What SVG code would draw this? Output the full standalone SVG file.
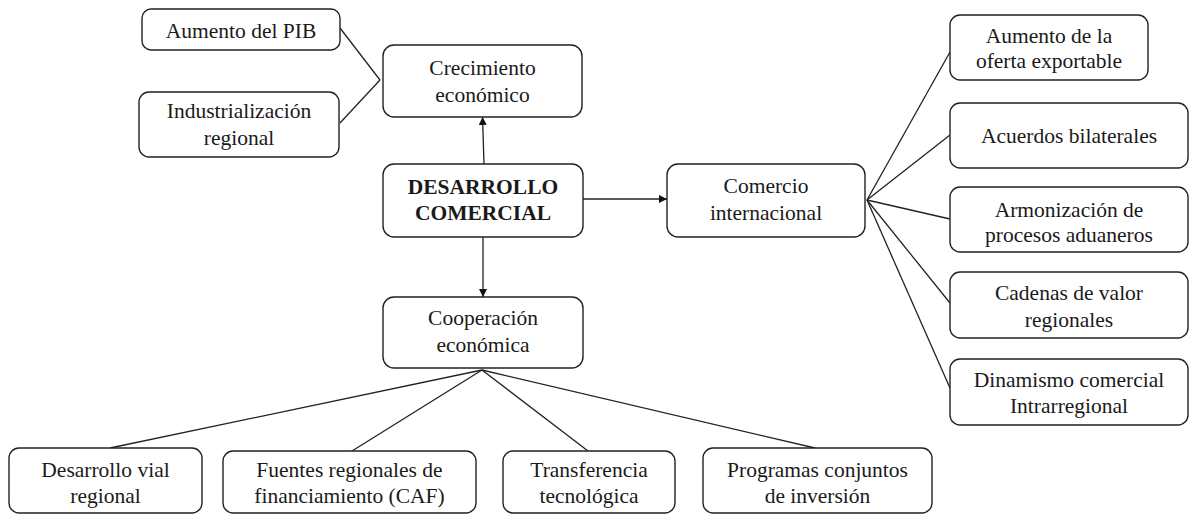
<svg xmlns="http://www.w3.org/2000/svg" width="1190" height="515" viewBox="0 0 1190 515">
<style>
.box{fill:#fff;stroke:#222;stroke-width:1.4}
.t{font-family:"Liberation Serif";font-size:21.5px;fill:#1a1a1a;text-anchor:middle}
.b{font-weight:bold}
.c{fill:none;stroke:#222;stroke-width:1.3}
</style>
<defs>
<marker id="ah" viewBox="0 0 10 10" refX="10" refY="5" markerWidth="8" markerHeight="8" markerUnits="userSpaceOnUse" orient="auto">
<path d="M0,0 L10,5 L0,10 z" fill="#111"/>
</marker>
</defs>
<rect width="1190" height="515" fill="#fff"/>
<g id="connectors">
<line class="c" x1="340" y1="28" x2="380" y2="80"/>
<line class="c" x1="340" y1="123" x2="380" y2="80"/>
<line class="c" x1="484" y1="164" x2="482.5" y2="117" marker-end="url(#ah)"/>
<line class="c" x1="583" y1="199" x2="667" y2="199" marker-end="url(#ah)"/>
<line class="c" x1="483" y1="237" x2="483" y2="297" marker-end="url(#ah)"/>
<line class="c" x1="867" y1="200" x2="950" y2="52"/>
<line class="c" x1="867" y1="200" x2="950" y2="135"/>
<line class="c" x1="867" y1="200" x2="950" y2="219"/>
<line class="c" x1="867" y1="200" x2="950" y2="303"/>
<line class="c" x1="867" y1="200" x2="950" y2="388"/>
<line class="c" x1="482" y1="370" x2="110" y2="448"/>
<line class="c" x1="482" y1="370" x2="352" y2="451"/>
<line class="c" x1="482" y1="370" x2="588" y2="451"/>
<line class="c" x1="482" y1="370" x2="815" y2="448"/>
</g>
<g id="aumento-pib"><rect class="box" x="142" y="9" width="198" height="41" rx="9"/><text class="t" x="241" y="38">Aumento del PIB</text></g>
<g id="industrializacion"><rect class="box" x="139" y="92" width="200" height="65" rx="10"/><text class="t" x="239" y="118">Industrialización</text><text class="t" x="239" y="145">regional</text></g>
<g id="crecimiento"><rect class="box" x="383" y="45" width="199" height="72" rx="11"/><text class="t" x="482.5" y="75">Crecimiento</text><text class="t" x="482.5" y="102">económico</text></g>
<g id="desarrollo"><rect class="box" x="383" y="164" width="200" height="73" rx="11"/><text class="t b" x="483" y="194">DESARROLLO</text><text class="t b" x="483" y="220">COMERCIAL</text></g>
<g id="comercio"><rect class="box" x="667" y="164" width="198" height="73" rx="11"/><text class="t" x="766" y="193">Comercio</text><text class="t" x="766" y="220">internacional</text></g>
<g id="cooperacion"><rect class="box" x="383" y="297" width="200" height="71" rx="11"/><text class="t" x="483" y="325">Cooperación</text><text class="t" x="483" y="352">económica</text></g>
<g id="oferta"><rect class="box" x="950" y="15" width="198" height="65" rx="10"/><text class="t" x="1049" y="43">Aumento de la</text><text class="t" x="1049" y="68">oferta exportable</text></g>
<g id="acuerdos"><rect class="box" x="950" y="103" width="238" height="65" rx="10"/><text class="t" x="1069" y="143">Acuerdos bilaterales</text></g>
<g id="armonizacion"><rect class="box" x="950" y="187" width="238" height="65" rx="10"/><text class="t" x="1069" y="217">Armonización de</text><text class="t" x="1069" y="242">procesos aduaneros</text></g>
<g id="cadenas"><rect class="box" x="950" y="272" width="238" height="66" rx="10"/><text class="t" x="1069" y="300">Cadenas de valor</text><text class="t" x="1069" y="327">regionales</text></g>
<g id="dinamismo"><rect class="box" x="950" y="359" width="238" height="66" rx="10"/><text class="t" x="1069" y="387">Dinamismo comercial</text><text class="t" x="1069" y="413">Intrarregional</text></g>
<g id="vial"><rect class="box" x="9" y="448" width="193" height="65" rx="10"/><text class="t" x="105.5" y="477">Desarrollo vial</text><text class="t" x="105.5" y="503">regional</text></g>
<g id="fuentes"><rect class="box" x="223" y="451" width="253" height="62" rx="10"/><text class="t" x="349.5" y="477">Fuentes regionales de</text><text class="t" x="349.5" y="503">financiamiento (CAF)</text></g>
<g id="transferencia"><rect class="box" x="503" y="451" width="172" height="62" rx="10"/><text class="t" x="589" y="477">Transferencia</text><text class="t" x="589" y="503">tecnológica</text></g>
<g id="programas"><rect class="box" x="703" y="448" width="229" height="65" rx="10"/><text class="t" x="817.5" y="477">Programas conjuntos</text><text class="t" x="817.5" y="503">de inversión</text></g>
</svg>
